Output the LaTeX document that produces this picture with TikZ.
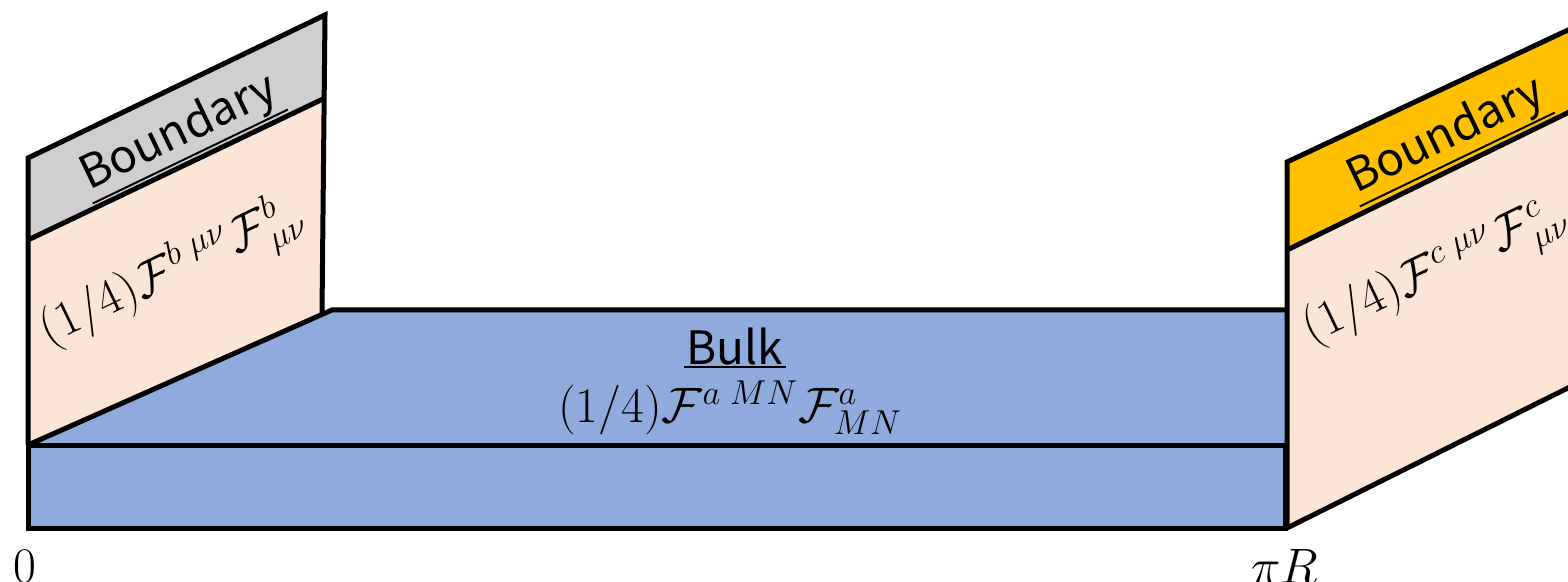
\documentclass[tikz,border=0pt]{standalone}
\usepackage{fontspec}
\newfontfamily\jpsans{Noto Sans CJK JP}
\definecolor{bndgray}{HTML}{D0CECE}
\definecolor{bndgold}{HTML}{FFC000}
\definecolor{peach}{HTML}{FBE5D6}
\definecolor{bulkblue}{HTML}{8FAADC}
\tikzset{
  face/.style={draw=black, line width=2.5pt, line join=miter},
  lbl/.style={font=\jpsans\fontsize{23}{27}\selectfont, inner xsep=1pt, inner ysep=1pt},
  uline/.style={line width=1pt},
  eq/.style={font=\fontsize{25.5}{29}\selectfont, inner sep=0pt},
  axislbl/.style={font=\fontsize{23}{27}\selectfont, inner sep=0pt}
}
\begin{document}
\begin{tikzpicture}[x=0.5pt,y=-0.5pt]
\useasboundingbox (0,0) rectangle (1568,582);
\clip (0,0) rectangle (1568,582);
% left boundary panel
\fill[peach] (28,445) -- (28,240) -- (323,99) -- (322,313) -- cycle;
\fill[bndgray] (28,240) -- (28,158) -- (325,15) -- (323,99) -- cycle;
\draw[face] (28,240) -- (323,99);
\draw[face] (28,445) -- (28,158) -- (325,15) -- (322,313);
% bulk top face
\fill[bulkblue] (28,445) -- (332,310) -- (1285,310) -- (1285,443) -- cycle;
\draw[face] (28,445) -- (332,310) -- (1285,310);
% bulk front
\fill[bulkblue] (28,445) rectangle (1285,528);
\draw[face] (28,445) rectangle (1285,528);
% right boundary panel
\fill[peach] (1287,528) -- (1287,250) -- (1600,97) -- (1600,372) -- cycle;
\fill[bndgold] (1287,250) -- (1287,162) -- (1600,15) -- (1600,97) -- cycle;
\draw[face] (1287,250) -- (1600,97);
\draw[face] (1287,528) -- (1287,162) -- (1600,15);
\draw[face] (1287,528) -- (1600,372);
% texts
\node[lbl, rotate=25.7] (bl) at (179,133) {Boundary};
\draw[uline] (bl.south west) -- (bl.south east);
\node[eq, rotate=25.7] (el) at (172,273) {$(1/4)\mathcal{F}^{b\;\mu\nu}\mathcal{F}^{b}_{\mu\nu}$};
\node[lbl, rotate=25.7] (br) at (1446,136) {Boundary};
\draw[uline] (br.south west) -- (br.south east);
\node[eq, rotate=25.7] (er) at (1436,274) {$(1/4)\mathcal{F}^{c\;\mu\nu}\mathcal{F}^{c}_{\mu\nu}$};
\node[lbl] (bk) at (735,346) {Bulk};
\draw[uline] (bk.south west) -- (bk.south east);
\node[eq] (ek) at (730,408) {$(1/4)\mathcal{F}^{a\;MN}\mathcal{F}^{a}_{MN}$};
\node[axislbl] (z) at (25,566) {$0$};
\node[axislbl] (pr) at (1285,566) {$\pi R$};
\end{tikzpicture}
\end{document}
